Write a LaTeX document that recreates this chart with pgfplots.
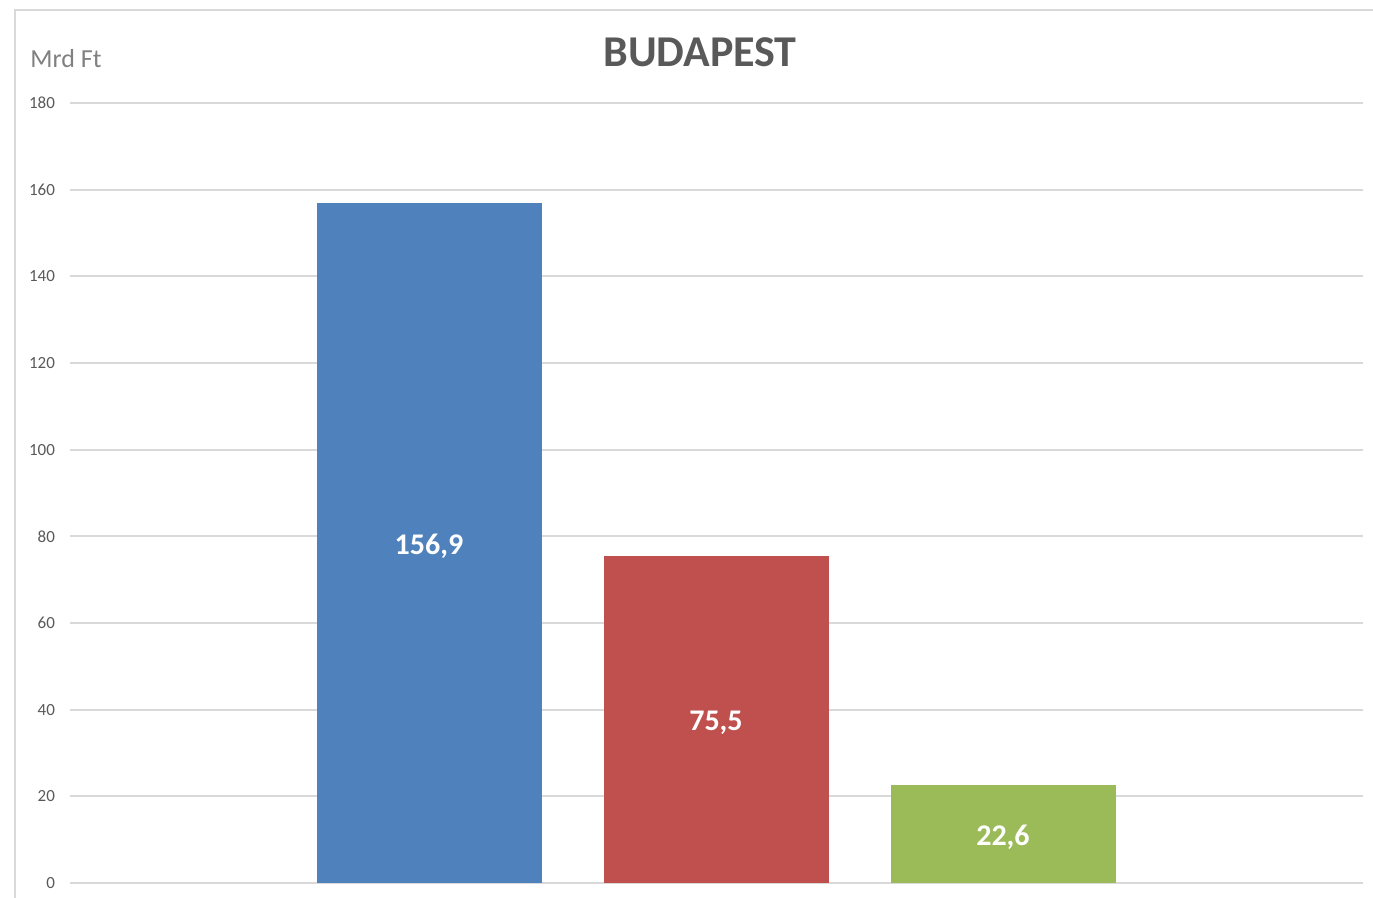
\documentclass[border=0pt]{standalone}
\usepackage{fontspec}
\setmainfont{Carlito}
\usepackage{pgfplots}
\pgfplotsset{compat=1.18}
\definecolor{barblue}{HTML}{4F81BD}
\definecolor{barred}{HTML}{C0504D}
\definecolor{bargreen}{HTML}{9BBB59}
\definecolor{gridgray}{HTML}{D9D9D9}
\definecolor{txtgray}{HTML}{595959}
\definecolor{unitgray}{HTML}{808080}
\begin{document}
\begin{tikzpicture}[x=1pt,y=1pt]
\useasboundingbox (-35,-7.5) rectangle (651.5,441.5);
% chart frame (left and top edge visible)
\draw[gridgray, line width=1pt] (-27.5,-7.5) -- (-27.5,436.5) -- (651.5,436.5);
\node[anchor=base, inner sep=0, text=txtgray, font=\bfseries\fontsize{22}{26}\selectfont] at (315,408) {BUDAPEST};
\node[anchor=base west, inner sep=0, text=unitgray, font=\fontsize{13}{15}\selectfont] at (-20,407.5) {Mrd Ft};
\begin{axis}[
    at={(0,0)}, anchor=south west,
    scale only axis, width=646.5pt, height=390pt,
    ymin=0, ymax=180, ytick={0,20,...,180},
    xmin=-0.2509, xmax=4.2544, xtick=\empty,
    ymajorgrids, grid style={gridgray, line width=0.9pt},
    axis line style={draw=none},
    major tick length=0pt,
    /pgf/number format/assume math mode=true,
    yticklabel style={text=txtgray, font=\fontsize{8.5}{10}\selectfont, xshift=-4pt},
    ybar, bar width=112.5pt, bar shift=0pt,
    nodes near coords, point meta=explicit symbolic,
    visualization depends on={y \as \rawy},
    every node near coord/.append style={text=white, anchor=center,
        font=\bfseries\fontsize{15}{18}\selectfont, yshift={-1.08333*\rawy-1.8}},
]
\addplot[fill=barblue, draw=none] coordinates {(1,156.9) [156,9]};
\addplot[fill=barred, draw=none] coordinates {(2,75.5) [75,5]};
\addplot[fill=bargreen, draw=none] coordinates {(3,22.6) [22,6]};
\end{axis}
\end{tikzpicture}
\end{document}
